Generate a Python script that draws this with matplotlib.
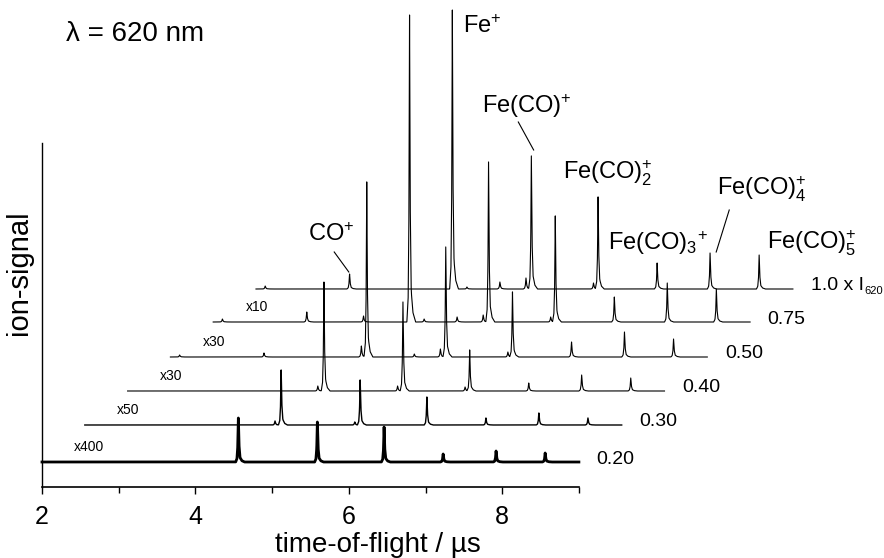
import numpy as np
import matplotlib

matplotlib.use("Agg")
import matplotlib.pyplot as plt
from matplotlib.ticker import FixedLocator

plt.rcParams["font.family"] = ["Liberation Sans", "DejaVu Sans"]
plt.rcParams["mathtext.fontset"] = "custom"
plt.rcParams["mathtext.rm"] = "Liberation Sans"
plt.rcParams["mathtext.it"] = "Liberation Sans:italic"
plt.rcParams["mathtext.bf"] = "Liberation Sans:bold"

# laser intensity (relative to I620) and vertical scaling of each trace
intensities = ["0.20", "0.30", "0.40", "0.50", "0.75", "1.0"]
scale_labels = ["x400", "x50", "x30", "x30", "x10", ""]

# peak positions (time-of-flight / us) and heights (arb. units) per trace
tof_020 = [4.56, 5.59, 6.46, 7.23, 7.92, 8.56]
sig_020 = [44, 40, 35, 8, 11, 9]
tof_030 = [4.48, 4.56, 5.52, 5.59, 6.46, 7.23, 7.92, 8.56]
sig_030 = [4, 55, 3, 45, 28, 7, 12, 7]
tof_040 = [4.48, 4.56, 5.52, 5.59, 6.40, 6.46, 7.23, 7.92, 8.56]
sig_040 = [5, 109, 5, 89, 4, 41, 8, 16, 13]
tof_050 = [2.12, 3.22, 4.49, 4.56, 5.18, 5.52, 5.59, 6.40, 6.46, 7.23, 7.92, 8.56]
sig_050 = [2, 4, 11, 175, 3, 8, 110, 5, 65, 15, 25, 18]
tof_075 = [2.12, 3.22, 3.96, 4.56, 4.75, 5.18, 5.52, 5.59, 6.40, 6.46, 7.23, 7.92, 8.56]
sig_075 = [3, 10, 6, 307, 3, 5, 7, 160, 5, 106, 25, 39, 33]
tof_100 = [2.12, 3.22, 4.56, 4.75, 5.18, 5.52, 5.59, 6.40, 6.46, 7.23, 7.92, 8.56]
sig_100 = [3, 15, 279, 2, 7, 11, 133, 6, 92, 26, 36, 34]

tofs = [tof_020, tof_030, tof_040, tof_050, tof_075, tof_100]
sigs = [sig_020, sig_030, sig_040, sig_050, sig_075, sig_100]

# waterfall layout
x_shift = 0.558
y_base = [25, 62, 96, 130, 165, 198]
line_w = [2.0, 1.0, 0.8, 0.8, 0.8, 0.8]

# peak shape (time offset / relative height)
shape_dt = [-0.035, -0.018, -0.008, 0.0, 0.01, 0.022, 0.045, 0.08]
shape_h = [0.0, 0.08, 0.35, 1.0, 0.35, 0.1, 0.03, 0.0]

fig = plt.figure(figsize=(8.84, 5.58), dpi=100)
ax = fig.add_axes([42 / 884, 71 / 558, 842 / 884, 487 / 558])
ax.set_xlim(2, 2 + 842 / 76.7)
ax.set_ylim(0, 487)

for i in range(len(intensities)):
    t = np.union1d(np.linspace(2.0, 9.0, 3000), tofs[i])
    y = np.zeros_like(t)
    for t0, h in zip(tofs[i], sigs[i]):
        y += h * np.interp(t - t0, shape_dt, shape_h, left=0, right=0)
    dx = i * x_shift
    ax.plot(t + dx, y + y_base[i], color="black", lw=line_w[i], clip_on=False)
    lab = ax.text(9.0 + dx + 0.23, y_base[i] + 3, intensities[i] +
                  (" x I" if i == len(intensities) - 1 else ""),
                  fontsize=14, va="center", ha="left")
    if i == len(intensities) - 1:
        ax.annotate("620", xy=(1.0, 0.2), xycoords=lab, xytext=(0.5, 0),
                    textcoords="offset points", fontsize=8, ha="left", va="center")
    if scale_labels[i]:
        ax.text(2.0 + dx + 0.42, y_base[i] + 15, scale_labels[i], fontsize=10,
                va="center", ha="left")

# species labels
fs = 17
ax.text(7.49, 454, r"Fe$^{+}$", fontsize=fs, va="baseline")
ax.text(7.74, 374, r"Fe(CO)$^{+}$", fontsize=fs, va="baseline")
ax.text(8.79, 307, r"Fe(CO)$_{2}^{+}$", fontsize=fs, va="baseline")
ax.text(9.38, 237, r"Fe(CO)$_{3}$$^{+}$", fontsize=fs, va="baseline")
ax.text(10.80, 292, r"Fe(CO)$_{4}^{+}$", fontsize=fs, va="baseline")
ax.text(11.45, 237, r"Fe(CO)$_{5}^{+}$", fontsize=fs, va="baseline")
ax.text(5.47, 246, r"CO$^{+}$", fontsize=fs, va="baseline")
ax.plot([5.81, 6.00], [235, 215], color="black", lw=0.8)
ax.plot([8.21, 8.41], [365, 337], color="black", lw=0.8)
ax.plot([10.96, 10.79], [277, 235], color="black", lw=0.8)

ax.text(2.31, 453, "λ = 620 nm", fontsize=20, va="center", ha="left")

# axes styling
for side in ["top", "right"]:
    ax.spines[side].set_visible(False)
ax.spines["bottom"].set_bounds(2, 9)
ax.spines["left"].set_bounds(0, 344)
ax.spines["bottom"].set_linewidth(1.2)
ax.spines["left"].set_linewidth(1.0)
ax.xaxis.set_major_locator(FixedLocator([2, 4, 6, 8]))
ax.xaxis.set_minor_locator(FixedLocator([3, 5, 7, 9]))
ax.tick_params(axis="x", which="major", direction="out", length=5, width=1,
               labelsize=18, pad=8)
ax.tick_params(axis="x", which="minor", direction="out", length=4, width=1)
ax.set_yticks([])
ax.set_xlabel("time-of-flight / µs", fontsize=20)
ax.xaxis.set_label_coords((378 - 42) / 842, -0.093)
ax.set_ylabel("ion-signal", fontsize=21)
ax.yaxis.set_label_coords(-0.011, 0.44)

fig.savefig("out.png", dpi=100)
